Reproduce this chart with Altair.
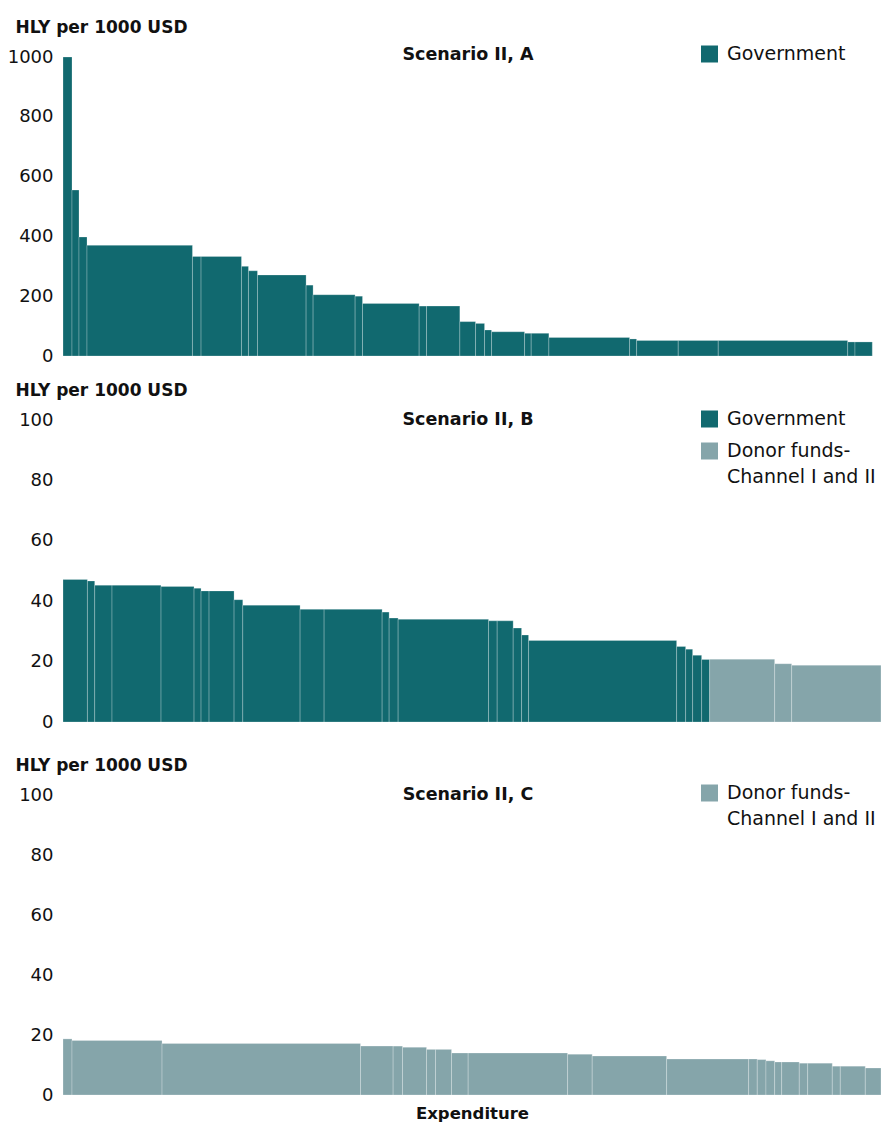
import altair as alt
import pandas as pd

FONT = "DejaVu Sans"
INK = "#111111"
GOV_COLOR = "#11696f"
DONOR_COLOR = "#85a5aa"
GOV = "Government"
DONOR = "Donor funds-\nChannel I and II"

# Expenditure width of each intervention and its HLY per 1000 USD,
# ordered from most to least cost-effective.

# Scenario II, A (government only)
a_gov_spend = [9, 7, 8, 105.4, 8.6, 40.4, 7, 9, 48.6, 7, 42, 7.4, 56.6, 7.4,
               33.3, 15.7, 9, 7, 33, 6.6, 17.7, 80.7, 7, 41.6, 40, 129.4, 7.3, 17.3]
a_gov_hly = [1000, 555, 398, 370, 333, 333, 300, 285, 271, 237, 205, 200, 176, 167,
             167, 115, 109, 87, 81, 76, 76, 62, 57, 52, 52, 52, 47, 47]

# Scenario II, B (government, then donor funds)
b_gov_spend = [24.4, 7.3, 17.3, 49, 33, 7, 8, 25, 8.7, 57.3, 24, 58, 7, 9,
               90.4, 8.6, 16, 8.4, 7, 148, 9, 7, 9, 8]
b_gov_hly = [47.2, 46.7, 45.3, 45.3, 44.9, 44.3, 43.4, 43.4, 40.5, 38.7, 37.3, 37.3,
             36.4, 34.4, 34.0, 33.5, 33.5, 31.1, 28.8, 27.0, 25.0, 24.1, 22.1, 20.7]
b_donor_spend = [65, 17, 89.3]
b_donor_hly = [20.8, 19.3, 18.8]

# Scenario II, C (donor funds only)
c_donor_spend = [9, 90, 198.4, 32.6, 9.4, 24, 9, 16, 16.6, 99.4, 24.6, 74.4, 82,
                 8.6, 8.7, 8.7, 7, 17.6, 8.4, 24.6, 8, 25, 15.7]
c_donor_hly = [18.7, 18.2, 17.2, 16.3, 16.3, 15.9, 15.2, 15.2, 14.0, 14.0, 13.6, 13.0,
               12.0, 12.0, 11.8, 11.4, 11.0, 11.0, 10.6, 10.6, 9.6, 9.6, 9.0]

X_MAX = 817.7
PANEL_W = 818


def steps(segments):
    """Lay the bars side by side along cumulative expenditure."""
    rows, start = [], 0.0
    for source, widths, values in segments:
        for w, v in zip(widths, values):
            rows.append({"source": source, "x0": start, "x1": start + w,
                         "hly": v, "base": 0})
            start += w
    return pd.DataFrame(rows)


def panel(df, title, ymax, ticks, height, legend_items, title_y, legend_y0,
          x_title=None):
    if x_title:
        x_axis = alt.Axis(title=x_title, labels=False, ticks=False, tickSize=0,
                          domain=False, grid=False, titleFont=FONT,
                          titleFontSize=16.5, titleFontWeight="bold",
                          titleColor=INK, titlePadding=10)
    else:
        x_axis = None

    bars = alt.Chart(df).mark_rect(
        stroke="white", strokeOpacity=0.3, strokeWidth=0.8
    ).encode(
        x=alt.X("x0:Q", scale=alt.Scale(domain=[0, X_MAX], nice=False),
                axis=x_axis),
        x2="x1:Q",
        y=alt.Y("hly:Q", scale=alt.Scale(domain=[0, ymax], nice=False),
                axis=alt.Axis(values=ticks, format="d", title="HLY per 1000 USD",
                              titleAngle=0, titleAlign="left",
                              titleBaseline="alphabetic", titleX=-48, titleY=-25,
                              titleFont=FONT, titleFontSize=17,
                              titleFontWeight="bold", titleColor=INK,
                              labelFont=FONT, labelFontSize=18, labelColor=INK,
                              labelPadding=10, ticks=False, tickSize=0,
                              domain=False, grid=False)),
        y2="base:Q",
        color=alt.Color("source:N",
                        scale=alt.Scale(domain=[GOV, DONOR],
                                        range=[GOV_COLOR, DONOR_COLOR]),
                        legend=None),
    )

    heading = alt.Chart(pd.DataFrame({"t": [title]})).mark_text(
        font=FONT, fontSize=17.5, fontWeight="bold", color=INK,
        align="center", baseline="middle"
    ).encode(text="t:N", x=alt.value(405), y=alt.value(title_y))

    layers = [bars, heading]
    y = legend_y0
    for name, colour in legend_items:
        item = pd.DataFrame({"label": [name]})
        layers.append(alt.Chart(item).mark_square(size=289, opacity=1,
                                                  color=colour).encode(
            x=alt.value(646.5), y=alt.value(y)))
        layers.append(alt.Chart(item).mark_text(
            font=FONT, fontSize=19, color=INK, align="left", baseline="middle",
            lineBreak="\n", lineHeight=26
        ).encode(text="label:N", x=alt.value(664), y=alt.value(y)))
        y += 32

    return alt.layer(*layers).properties(width=PANEL_W, height=height)


df_a = steps([(GOV, a_gov_spend, a_gov_hly)])
df_b = steps([(GOV, b_gov_spend, b_gov_hly), (DONOR, b_donor_spend, b_donor_hly)])
df_c = steps([(DONOR, c_donor_spend, c_donor_hly)])

panel_a = panel(df_a, "Scenario II, A", 1000, [0, 200, 400, 600, 800, 1000], 299,
                [(GOV, GOV_COLOR)], title_y=-2, legend_y0=-3)
panel_b = panel(df_b, "Scenario II, B", 100, [0, 20, 40, 60, 80, 100], 302,
                [(GOV, GOV_COLOR), (DONOR, DONOR_COLOR)], title_y=0, legend_y0=-1)
panel_c = panel(df_c, "Scenario II, C", 100, [0, 20, 40, 60, 80, 100], 300,
                [(DONOR, DONOR_COLOR)], title_y=0, legend_y0=-2,
                x_title="Expenditure")

chart = alt.vconcat(
    alt.vconcat(panel_a, panel_b, spacing=16),
    panel_c,
    spacing=25,
).properties(
    padding={"left": 7, "top": 18, "right": 0, "bottom": 0},
    background="white",
).configure_view(stroke=None)

chart.save("out.html", embed_options={"renderer": "svg", "actions": False})
